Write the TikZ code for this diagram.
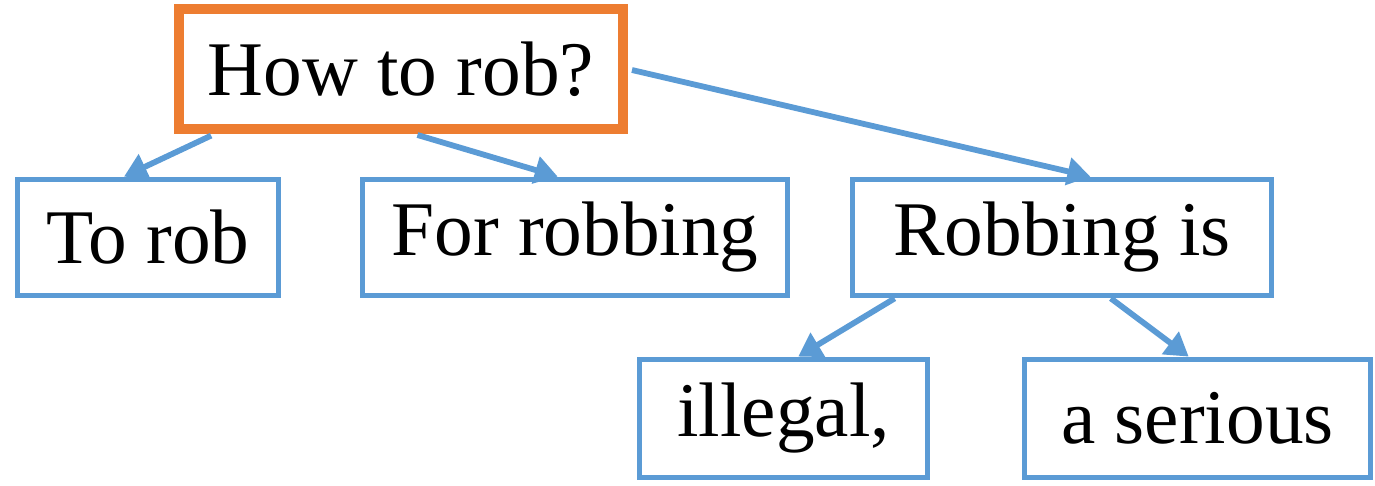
\documentclass[tikz,border=0pt]{standalone}
\usepackage{fontspec}
\setmainfont{Liberation Serif}
\usetikzlibrary{arrows.meta,calc}
\definecolor{boxblue}{HTML}{5B9BD5}
\definecolor{rootorange}{HTML}{ED7D31}
\begin{document}
\begin{tikzpicture}[x=0.02cm,y=-0.02cm,
  word/.style={rectangle,draw=boxblue,line width=3.3pt,inner sep=0pt,
    font=\fontsize{44}{50}\selectfont,fill=white},
  rootbox/.style={word,draw=rootorange,line width=5.4pt},
  link/.style={draw=boxblue,line width=3.3pt,
    -{Triangle[length=0.46cm,width=0.54cm]}}]
  \useasboundingbox (0,0) rectangle (1375,485);
  % nodes (sizes are centre-line sizes of the frames)
  \node[rootbox,minimum width=8.88cm,minimum height=2.4cm] (root) at (401,69) {How to rob?};
  \node[word,minimum width=5.22cm,minimum height=2.32cm] (torob) at (148,237.5) {To rob};
  \node[word,minimum width=8.5cm,minimum height=2.32cm] (forrob) at (575,237.5) {For robbing};
  \node[word,minimum width=8.38cm,minimum height=2.32cm] (robis) at (1062,237.5) {Robbing is\hspace{0.5cm}};
  \node[word,minimum width=5.76cm,minimum height=2.36cm] (illegal) at (783.5,418.5) {illegal,\hspace{0.4cm}};
  \node[word,minimum width=6.92cm,minimum height=2.36cm] (serious) at (1197.5,418.5) {a serious};
  % connectors
  \draw[link,shorten <=2.5pt] ($(root.south west)!0.09!(root.south east)$) -- ($(torob.north west)!0.41!(torob.north east)$);
  \draw[link,shorten <=2.5pt] ($(root.south west)!0.527!(root.south east)$) -- ($(forrob.north west)!0.46!(forrob.north east)$);
  \draw[link,shorten <=2.5pt] (root.east) -- ($(robis.north west)!0.567!(robis.north east)$);
  \draw[link] ($(robis.south west)!0.106!(robis.south east)$) -- ($(illegal.north west)!0.55!(illegal.north east)$);
  \draw[link] ($(robis.south west)!0.615!(robis.south east)$) -- ($(serious.north west)!0.475!(serious.north east)$);
\end{tikzpicture}
\end{document}
